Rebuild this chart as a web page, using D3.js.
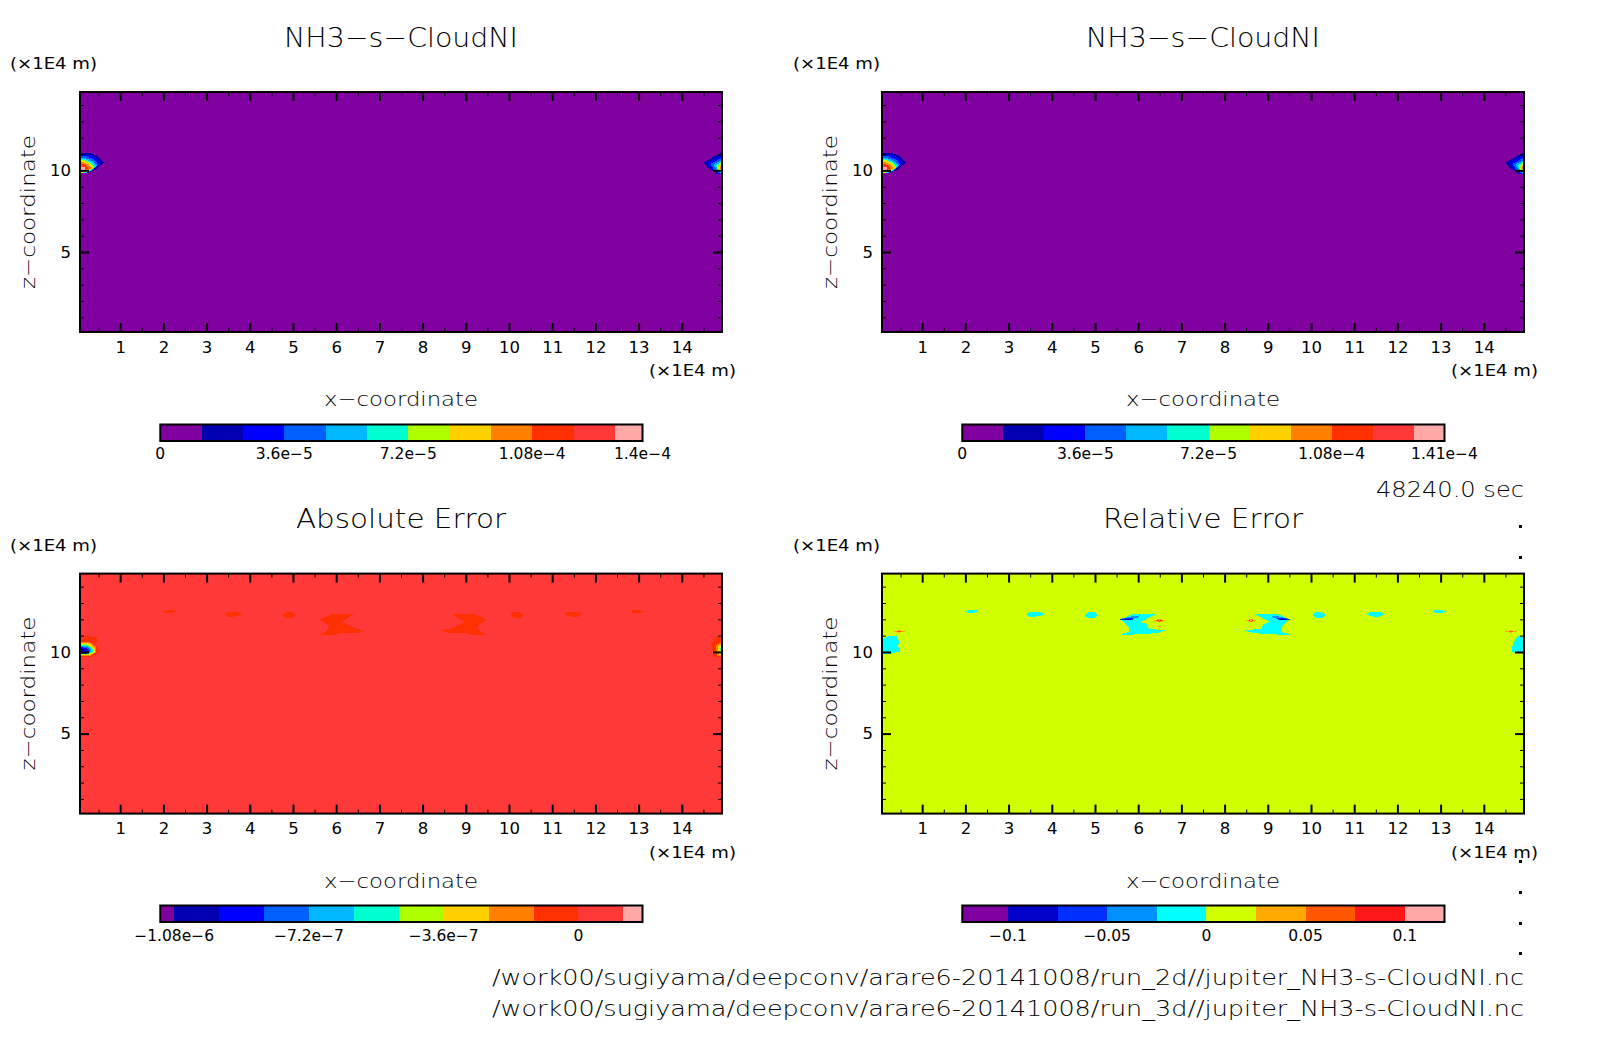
<!DOCTYPE html>
<html>
<head>
<meta charset="utf-8">
<script src="https://d3js.org/d3.v7.min.js"></script>
<style>
  body { margin: 0; background: #fff; }
  svg { display: block; }
  text { font-family: "DejaVu Sans", sans-serif; font-weight: 200; fill: #000; }
  text.small { font-weight: 400; }
  .tick text { font-weight: 400; }
  .shape, .bin { shape-rendering: crispEdges; }
</style>
</head>
<body>
<svg id="chart" width="1604" height="1054"></svg>
<script>
// axis values (x1E4 m)
const xMajor = [1,2,3,4,5,6,7,8,9,10,11,12,13,14];
const xMinor = [0.5,1.5,2.5,3.5,4.5,5.5,6.5,7.5,8.5,9.5,10.5,11.5,12.5,13.5,14.5];
const zMajor = [5,10];
const zMinor = [1,2,3,4,6,7,8,9,11,12,13,14];
const xDomain = [0.07,14.93];
const zDomain = [0.1,14.8];

// colour levels of the four panels
const cloudLevels = [1.2e-5,2.4e-5,3.6e-5,4.8e-5,6e-5,7.2e-5,8.4e-5,9.6e-5,1.08e-4,1.2e-4,1.32e-4];
const cloudColors = ["#8000a0","#0000b0","#0000ff","#0060ff","#00b8ff","#00ffd0","#b0ff00","#ffd000","#ff8000","#ff3000","#ff3838","#ffa8a8"];
const absLevels = [-1.08e-6,-9.6e-7,-8.4e-7,-7.2e-7,-6e-7,-4.8e-7,-3.6e-7,-2.4e-7,-1.2e-7,0,1.2e-7];
const relLevels = [-0.1,-0.075,-0.05,-0.025,0,0.025,0.05,0.075,0.1];
const relColors = ["#8000a0","#0000c8","#0030ff","#0090ff","#00ffff","#d0ff00","#ffa800","#ff5800","#ff1818","#ffa8a8"];

// colour bar ranges and labels
const cloudRange1 = [0,1.4e-4];
const cloudRange2 = [0,1.41e-4];
const absRange = [-1.117e-6,1.71e-7];
const relRange = [-0.123,0.12];
const cloudTicks1 = [[0,"0"],[3.6e-5,"3.6e−5"],[7.2e-5,"7.2e−5"],[1.08e-4,"1.08e−4"],[1.4e-4,"1.4e−4"]];
const cloudTicks2 = [[0,"0"],[3.6e-5,"3.6e−5"],[7.2e-5,"7.2e−5"],[1.08e-4,"1.08e−4"],[1.41e-4,"1.41e−4"]];
const absTicks = [[-1.08e-6,"−1.08e−6"],[-7.2e-7,"−7.2e−7"],[-3.6e-7,"−3.6e−7"],[0,"0"]];
const relTicks = [[-0.1,"−0.1"],[-0.05,"−0.05"],[0,"0"],[0.05,"0.05"],[0.1,"0.1"]];

// contour regions: [value, [[x,z],...]]
const cloudBlob = [
  [1.8e-5,[[-0.5,10.5],[-0.1,11.05],[0.25,11.08],[0.47,10.92],[0.63,10.5],[0.44,10.05],[0.25,9.85],[-0.2,9.8],[-0.4,10.15]]],
  [3e-5,[[-0.41,10.45],[-0.05,10.95],[0.25,10.97],[0.42,10.82],[0.54,10.45],[0.38,10.05],[0.22,9.82],[-0.15,9.8],[-0.3,10.1]]],
  [4.2e-5,[[-0.34,10.4],[-0.02,10.85],[0.22,10.85],[0.38,10.68],[0.49,10.38],[0.36,10],[0.2,9.82],[-0.12,9.8],[-0.26,10.05]]],
  [5.4e-5,[[-0.27,10.35],[0,10.74],[0.2,10.74],[0.35,10.58],[0.46,10.3],[0.33,9.98],[0.18,9.82],[-0.1,9.82],[-0.2,10.05]]],
  [6.6e-5,[[-0.22,10.3],[0,10.67],[0.2,10.67],[0.33,10.52],[0.44,10.25],[0.31,9.98],[0.17,9.84],[-0.08,9.84],[-0.17,10.05]]],
  [7.8e-5,[[-0.2,10.25],[0,10.62],[0.18,10.61],[0.31,10.47],[0.41,10.2],[0.29,9.98],[0.16,9.86],[-0.06,9.86],[-0.15,10.05]]],
  [9e-5,[[-0.15,10.2],[0,10.56],[0.17,10.55],[0.29,10.42],[0.38,10.18],[0.27,9.98],[0.15,9.88],[-0.05,9.88],[-0.12,10.05]]],
  [1.02e-4,[[-0.13,10.2],[0,10.5],[0.16,10.49],[0.26,10.36],[0.34,10.15],[0.24,10],[0.13,9.92],[-0.04,9.92],[-0.1,10.05]]],
  [1.14e-4,[[-0.08,10.2],[0,10.4],[0.14,10.4],[0.22,10.28],[0.26,10.12],[0.19,10],[0,9.97],[-0.08,10.05]]],
  [1.26e-4,[[0,10.3],[0.14,10.3],[0.22,10.17],[0.2,10.05],[0,10.02]]],
  [1.38e-4,[[0,10.2],[0.19,10.2],[0.19,10.05],[0,10.03]]]
];
const absBlob = [
  [-6e-8,[[-0.33,10.5],[-0.2,10.95],[0.05,10.73],[0.2,10.96],[0.42,10.94],[0.5,10.68],[0.38,10.5],[0.5,10.23],[0.5,9.93],[0.35,9.72],[-0.25,9.72]]],
  [-1.8e-7,[[-0.22,10.4],[-0.1,10.6],[0.05,10.6],[0.3,10.6],[0.45,10.3],[0.45,9.98],[0.3,9.76],[-0.18,9.76]]],
  [-3e-7,[[-0.17,10.35],[-0.05,10.53],[0.3,10.52],[0.41,10.25],[0.41,9.95],[0.3,9.8],[-0.13,9.8]]],
  [-4.2e-7,[[-0.14,10.3],[-0.03,10.47],[0.28,10.46],[0.38,10.22],[0.38,9.97],[0.27,9.83],[-0.1,9.83]]],
  [-5.4e-7,[[-0.12,10.25],[0,10.42],[0.26,10.41],[0.36,10.2],[0.36,9.98],[0.25,9.85],[-0.08,9.85]]],
  [-6.6e-7,[[-0.1,10.2],[0,10.38],[0.24,10.37],[0.33,10.18],[0.33,10],[0.23,9.87],[-0.06,9.87]]],
  [-7.8e-7,[[-0.09,10.15],[0,10.33],[0.22,10.32],[0.31,10.15],[0.31,10],[0.22,9.89],[-0.05,9.89]]],
  [-9e-7,[[-0.08,10.12],[0,10.28],[0.2,10.27],[0.28,10.12],[0.28,10],[0.2,9.9],[-0.04,9.9]]],
  [-1.02e-6,[[-0.06,10.08],[0,10.2],[0.18,10.19],[0.25,10.08],[0.25,10],[0.18,9.92],[-0.03,9.92]]]
];
// small cells near the top of the cloud layer
const cellA = [[1.98,12.48],[2.1,12.58],[2.2,12.6],[2.3,12.5],[2.2,12.38],[2.08,12.38]];
const cellB = [[3.4,12.32],[3.5,12.47],[3.7,12.47],[3.82,12.35],[3.72,12.18],[3.5,12.16]];
const cellC = [[4.78,12.3],[4.85,12.44],[5,12.44],[5.06,12.25],[4.98,12.08],[4.85,12.08],[4.78,12.2]];
const absMain = [[5.93,12.34],[6.41,12.3],[6.28,12.09],[6.12,11.84],[6.24,11.68],[6.47,11.43],[6.66,11.31],[6.47,11.14],[6.07,11.14],[5.93,11.02],[5.62,11.06],[5.77,11.27],[5.85,11.58],[5.77,11.72],[5.62,11.99]];
const relMain = [[5.86,12.3],[6.4,12.3],[6.24,12.09],[6.05,11.84],[6.21,11.68],[6.24,11.43],[6.63,11.31],[6.4,11.14],[6.01,11.1],[5.66,11.02],[5.59,11.1],[5.78,11.22],[5.78,11.52],[5.7,11.72],[5.6,11.99],[5.82,12.26]];
const relCore = [
  [-0.0375,[[5.62,12.04],[5.85,12.18],[6.04,12.24],[5.98,12.1],[5.86,12.02],[5.62,11.94]]],
  [-0.0625,[[5.58,12.02],[5.8,12.08],[5.95,12.02],[5.8,11.96],[5.6,11.94]]],
  [-0.0875,[[5.68,12],[5.84,12],[5.84,11.94],[5.68,11.93]]],
  [0.0375,[[6.34,11.91],[6.49,12.03],[6.64,11.91],[6.49,11.82]]],
  [0.0625,[[6.42,11.91],[6.49,11.98],[6.56,11.91],[6.49,11.85]]],
  [0.0875,[[6.44,11.93],[6.54,11.93],[6.54,11.88],[6.44,11.88]]],
  [0.11,[[6.47,11.93],[6.51,11.93],[6.51,11.89],[6.47,11.89]]],
  [0.0375,[[6.46,11.6],[6.52,11.6],[6.52,11.55],[6.46,11.55]]],
  [0.0375,[[0.33,11.26],[0.47,11.33],[0.62,11.26],[0.47,11.18]]],
  [0.0625,[[0.42,11.26],[0.47,11.29],[0.53,11.26],[0.47,11.22]]]
];
const relEdgeLeft = [[0,10.69],[0.21,10.96],[0.41,10.96],[0.48,10.61],[0.41,10.34],[0.48,10.24],[0.48,10.03],[0.29,9.89],[0,9.88]];
const relEdgeRight = [[15,10.9],[14.78,10.96],[14.68,10.58],[14.66,10.28],[14.66,9.98],[15,9.88]];
const relEdgeStreak = [[0.05,12.36],[0.18,12.34],[0.05,12.29]];
const mirrorSum = 15.1;   // the field is mirrored about the middle of the domain
const period = 15;        // and periodic in x

// stray marks along the right edge
const strayDots = [526,556.5,861,892,922.6,953];

const filePaths = [
  "/work00/sugiyama/deepconv/arare6-20141008/run_2d//jupiter_NH3-s-CloudNI.nc",
  "/work00/sugiyama/deepconv/arare6-20141008/run_3d//jupiter_NH3-s-CloudNI.nc"
];

const svg = d3.select("#chart");
const W = 642, H = 240;

function label(g, str, x, y, anchor, size, len, rotate) {
  const t = g.append("text")
    .attr("x", x).attr("y", y)
    .attr("text-anchor", anchor)
    .attr("dominant-baseline", "central")
    .attr("class", size < 18 ? "small" : null)
    .style("font-size", size + "px")
    .text(str);
  if (len) t.attr("textLength", len).attr("lengthAdjust", "spacingAndGlyphs");
  if (rotate) t.attr("transform", "rotate(" + rotate + "," + x + "," + y + ")");
  return t;
}

function mirrored(pts) {
  return pts.map(function(p) { return [mirrorSum - p[0], p[1]]; });
}
function shifted(pts) {
  return pts.map(function(p) { return [p[0] + period, p[1]]; });
}

function cloudShapes() {
  let out = [];
  cloudBlob.forEach(function(b) { out.push(b); out.push([b[0], shifted(b[1])]); });
  return out;
}
function absShapes() {
  let out = [];
  absBlob.forEach(function(b) { out.push(b); out.push([b[0], shifted(b[1])]); });
  [cellA, cellB, cellC, absMain].forEach(function(c) {
    out.push([-6e-8, c]);
    out.push([-6e-8, mirrored(c)]);
  });
  return out;
}
function relShapes() {
  const cyan = -0.0125;
  let out = [[cyan, relEdgeLeft], [cyan, relEdgeRight], [0.0375, relEdgeStreak]];
  [cellA, cellB, cellC, relMain].forEach(function(c) {
    out.push([cyan, c]);
    out.push([cyan, mirrored(c)]);
  });
  relCore.forEach(function(c) {
    out.push(c);
    out.push([c[0], mirrored(c[1])]);
  });
  return out;
}

const panels = [
  { id: 1, px: 80, py: 92, unitX: -70, title: "NH3−s−CloudNI", titleLen: 234, levels: cloudLevels, colors: cloudColors, bg: 0,
    shapes: cloudShapes(), range: cloudRange1, ticks: cloudTicks1, barY: 424.5, tickY: 454 },
  { id: 2, px: 882, py: 92, unitX: -89, title: "NH3−s−CloudNI", titleLen: 234, levels: cloudLevels, colors: cloudColors, bg: 0,
    shapes: cloudShapes(), range: cloudRange2, ticks: cloudTicks2, barY: 424.5, tickY: 454 },
  { id: 3, px: 80, py: 573.6, unitX: -70, title: "Absolute Error", titleLen: 210, levels: absLevels, colors: cloudColors, bg: 5e-8,
    shapes: absShapes(), range: absRange, ticks: absTicks, barY: 905.5, tickY: 936 },
  { id: 4, px: 882, py: 573.6, unitX: -89, title: "Relative Error", titleLen: 200, levels: relLevels, colors: relColors, bg: 0.01,
    shapes: relShapes(), range: relRange, ticks: relTicks, barY: 905.5, tickY: 936 }
];

panels.forEach(function(p) {
  const x = d3.scaleLinear().domain(xDomain).range([0, W]);
  const z = d3.scaleLinear().domain(zDomain).range([H, 0]);
  const color = d3.scaleThreshold().domain(p.levels).range(p.colors);
  const line = d3.line().x(function(d) { return x(d[0]); }).y(function(d) { return z(d[1]); });

  const g = svg.append("g").attr("transform", "translate(" + p.px + "," + p.py + ")");
  svg.append("clipPath").attr("id", "clip" + p.id).append("rect").attr("width", W).attr("height", H);

  // field
  const field = g.append("g").attr("clip-path", "url(#clip" + p.id + ")");
  field.append("rect").attr("class", "shape").attr("width", W).attr("height", H).attr("fill", color(p.bg));
  field.selectAll("path").data(p.shapes).enter().append("path")
    .attr("class", "shape")
    .attr("d", function(d) { return line(d[1]) + "Z"; })
    .attr("fill", function(d) { return color(d[0]); });

  // ticks on all four sides
  function ticks(axis, transform, len, width, labelled) {
    const a = g.append("g").attr("transform", transform).call(axis.tickSize(-len).tickSizeOuter(0));
    a.select(".domain").remove();
    a.selectAll("line").attr("stroke", "#000").attr("stroke-width", width);
    if (!labelled) a.selectAll("text").remove();
    else a.selectAll("text").style("font-size", "16.5px").style("font-family", "'DejaVu Sans'").attr("fill", "#000");
    return a;
  }
  ticks(d3.axisBottom(x).tickValues(xMajor).tickFormat(d3.format("d")).tickPadding(9), "translate(0," + H + ")", 9, 2, true);
  ticks(d3.axisBottom(x).tickValues(xMinor), "translate(0," + H + ")", 4, 1, false);
  ticks(d3.axisTop(x).tickValues(xMajor), "translate(0,0)", 9, 2, false);
  ticks(d3.axisTop(x).tickValues(xMinor), "translate(0,0)", 4, 1, false);
  ticks(d3.axisLeft(z).tickValues(zMajor).tickFormat(d3.format("d")).tickPadding(9), "translate(0,0)", 9, 2, true);
  ticks(d3.axisLeft(z).tickValues(zMinor), "translate(0,0)", 4, 1, false);
  ticks(d3.axisRight(z).tickValues(zMajor), "translate(" + W + ",0)", 9, 2, false);
  ticks(d3.axisRight(z).tickValues(zMinor), "translate(" + W + ",0)", 4, 1, false);

  g.append("rect").attr("width", W).attr("height", H)
    .attr("fill", "none").attr("stroke", "#000").attr("stroke-width", 2);

  // texts around the axes
  label(g, p.title, W / 2, -55, "middle", 27, p.titleLen);
  label(g, "(×1E4 m)", p.unitX, -28, "start", 15.5, 87);
  label(g, "(×1E4 m)", 569, H + 39, "start", 15.5, 87);
  label(g, "x−coordinate", W / 2, H + 67, "middle", 20, 154);
  label(g, "z−coordinate", -52, 120, "middle", 20, 154, -90);

  // colour bar
  const bar = svg.append("g").attr("transform", "translate(" + (p.px + 80.3) + "," + p.barY + ")");
  const cx = d3.scaleLinear().domain(p.range).range([0, 482.2]);
  const edges = [p.range[0]].concat(p.levels, [p.range[1]]);
  bar.selectAll("rect").data(d3.pairs(edges)).enter().append("rect")
    .attr("class", "bin")
    .attr("x", function(d) { return cx(d[0]); })
    .attr("width", function(d) { return cx(d[1]) - cx(d[0]); })
    .attr("height", 16.5)
    .attr("fill", function(d, i) { return p.colors[i]; });
  bar.append("rect").attr("width", 482.2).attr("height", 16.5)
    .attr("fill", "none").attr("stroke", "#000").attr("stroke-width", 2);
  p.ticks.forEach(function(t) {
    label(bar, t[1], cx(t[0]), p.tickY - p.barY, "middle", 15.5);
  });
});

// time stamp and file names
label(svg, "48240.0 sec", 1524, 490, "end", 21, 148);
label(svg, filePaths[0], 1524, 978, "end", 21, 1032);
label(svg, filePaths[1], 1524, 1009, "end", 21, 1032);

const dotY = d3.scaleLinear().domain([0, 1054]).range([0, 1054]);
svg.selectAll(".stray").data(strayDots).enter().append("rect")
  .attr("class", "stray shape")
  .attr("x", 1518.5).attr("y", function(d) { return dotY(d) - 1; })
  .attr("width", 3).attr("height", 3).attr("fill", "#000");
</script>
</body>
</html>
